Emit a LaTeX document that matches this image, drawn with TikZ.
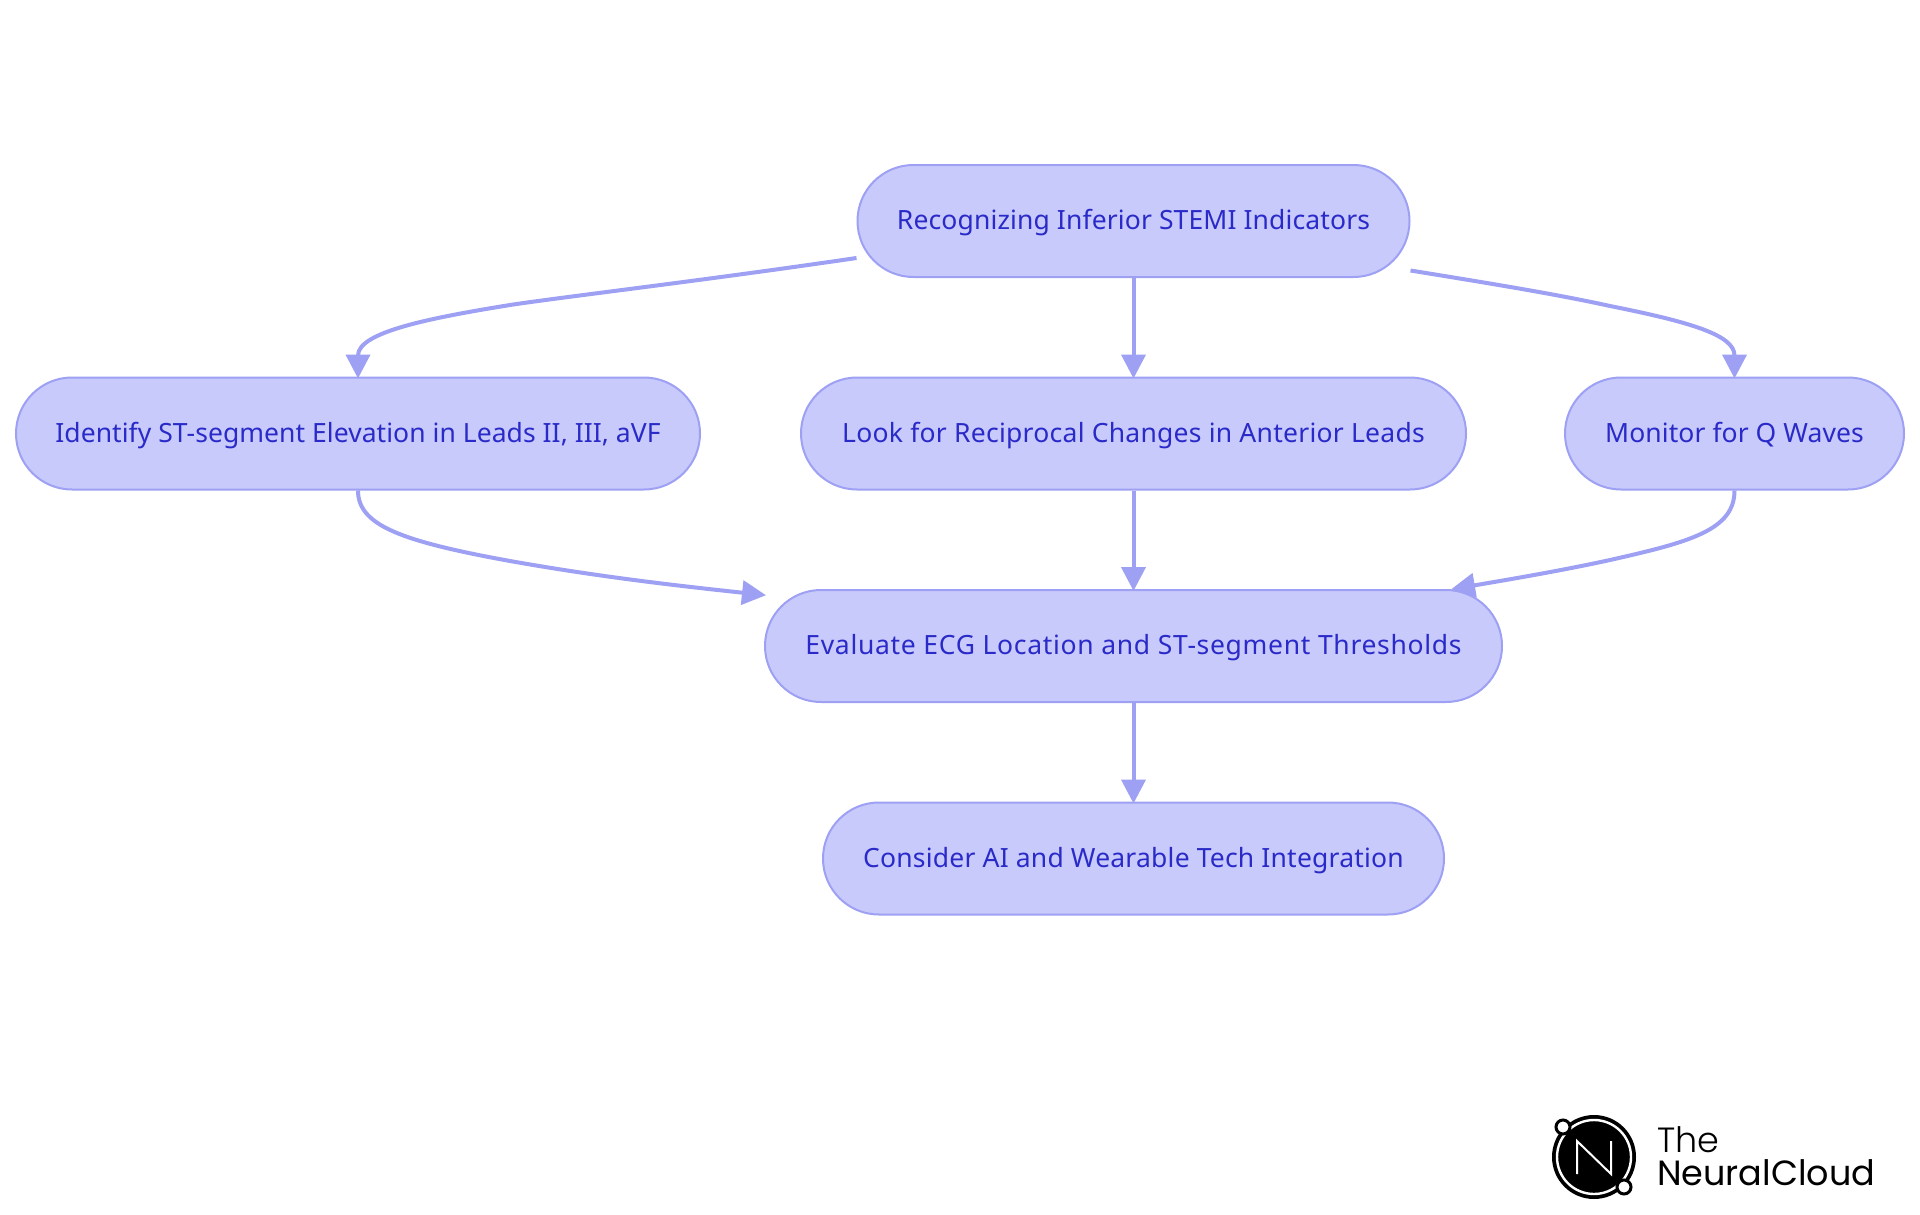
\documentclass[tikz,border=0pt]{standalone}
\usepackage{fontspec}
\setmainfont{Noto Sans}
\newfontfamily\logofont{Poppins}
\newfontfamily\logolight{Poppins Light}
\usetikzlibrary{arrows.meta}
\definecolor{boxfill}{RGB}{200,202,252}
\definecolor{boxline}{RGB}{157,160,243}
\definecolor{boxtext}{RGB}{42,42,200}
\newcommand\flowlabel[2]{{\addfontfeature{LetterSpace=#1}#2}}
\tikzset{
  x=1pt,y=-1pt,
  flowbox/.style={draw=boxline,fill=boxfill,line width=2pt,rounded corners=56pt,
    minimum height=112pt,inner sep=0pt,text=boxtext,text height=22.5pt,text depth=5.5pt,
    font=\fontsize{26.5}{30}\selectfont},
  flowline/.style={draw=boxline,line width=4pt,shorten >=-2pt,
    -{Triangle[length=24pt,width=24pt,color=boxline]}},
  logotext/.style={inner sep=0pt,anchor=base west,text=black}
}
\begin{document}
\begin{tikzpicture}
\useasboundingbox (0,0) rectangle (1920,1215);
\node[flowbox,minimum width=552pt] (top) at (1133.5,221) {\flowlabel{0.5}{Recognizing Inferior STEMI Indicators}};
\node[flowbox,minimum width=684pt] (identify) at (358,433.5) {\flowlabel{0.2}{Identify ST-segment Elevation in Leads II, III, aVF}};
\node[flowbox,minimum width=665pt] (look) at (1133.5,433.5) {\flowlabel{1.0}{Look for Reciprocal Changes in Anterior Leads}};
\node[flowbox,minimum width=339pt] (monitor) at (1734.5,433.5) {\flowlabel{0.3}{Monitor for Q Waves}};
\node[flowbox,minimum width=737pt] (evaluate) at (1133.5,646) {\flowlabel{2.6}{Evaluate ECG Location and ST-segment Thresholds}};
\node[flowbox,minimum width=621pt] (consider) at (1133.5,858.5) {\flowlabel{0.8}{Consider AI and Wearable Tech Integration}};

\draw[flowline] ([yshift=-37pt]top.west) .. controls (700,281) and (570,296) .. (510,305)
  .. controls (430,318) and (358,332) .. (identify.north);
\draw[flowline] (top.south) -- (look.north);
\draw[flowline] ([yshift=-49.5pt]top.east) .. controls (1500,285) and (1560,295) .. (1610,306)
  .. controls (1690,322) and (1734.5,335) .. (monitor.north);
\draw[flowline] (identify.south) .. controls (358,525) and (400,541) .. (510,561)
  .. controls (600,577) and (680,586) .. ([yshift=51pt,xshift=0pt]evaluate.west);
\draw[flowline] (look.south) -- (evaluate.north);
\draw[flowline] (monitor.south) .. controls (1734.5,530) and (1690,542) .. (1610,560)
  .. controls (1560,571) and (1500,581) .. ([xshift=-50pt]evaluate.north east);
\draw[flowline] (evaluate.south) -- (consider.north);

% logo
\fill[black] (1594,1157) circle[radius=42pt];
\draw[white,line width=2.4pt] (1594,1157) circle[radius=37pt];
\draw[white,line width=2pt,line join=miter] (1577,1174) -- (1577,1141) -- (1611,1174) -- (1611,1141);
\draw[black,fill=white,line width=3pt] (1563,1127) circle[radius=7pt];
\draw[black,fill=white,line width=3pt] (1624,1187) circle[radius=7pt];
\node[logotext,font=\logolight\fontsize{35}{40}\selectfont] (the) at (1657,1152) {The};
\node[logotext,font=\logofont\fontsize{35}{40}\selectfont] (brand) at (1657,1185) {NeuralCloud};
\end{tikzpicture}
\end{document}
